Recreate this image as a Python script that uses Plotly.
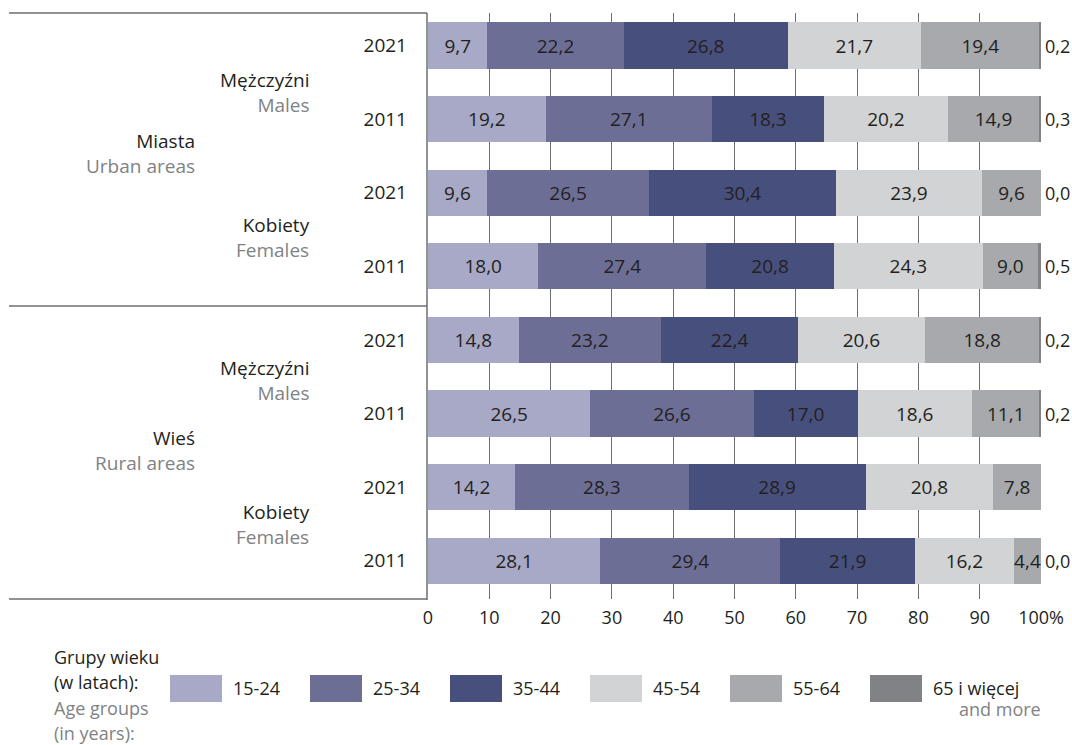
import plotly.graph_objects as go

# ---------------- data ----------------
years = ["2021", "2011", "2021", "2011", "2021", "2011", "2021", "2011"]
sex_pl = ["Mężczyźni", "Kobiety", "Mężczyźni", "Kobiety"]
sex_en = ["Males", "Females", "Males", "Females"]
area_pl = ["Miasta", "Wieś"]
area_en = ["Urban areas", "Rural areas"]

age_groups = ["15-24", "25-34", "35-44", "45-54", "55-64", "65 i więcej"]
v15_24 = [9.7, 19.2, 9.6, 18.0, 14.8, 26.5, 14.2, 28.1]
v25_34 = [22.2, 27.1, 26.5, 27.4, 23.2, 26.6, 28.3, 29.4]
v35_44 = [26.8, 18.3, 30.4, 20.8, 22.4, 17.0, 28.9, 21.9]
v45_54 = [21.7, 20.2, 23.9, 24.3, 20.6, 18.6, 20.8, 16.2]
v55_64 = [19.4, 14.9, 9.6, 9.0, 18.8, 11.1, 7.8, 4.4]
v65_plus = [0.2, 0.3, 0.0, 0.5, 0.2, 0.2, None, 0.0]

x_ticks = [0, 10, 20, 30, 40, 50, 60, 70, 80, 90, 100]
x_ticktext = ["0", "10", "20", "30", "40", "50", "60", "70", "80", "90", "100%"]

# ---------------- style ----------------
colors = ["#a8a9c6", "#6d6e96", "#474f7d", "#d1d3d4", "#a7a9ac", "#808285"]
FONT = "Open Sans"
BLACK = "#231f20"
GREY = "#808285"
LINE = "#6d6e71"

W, H = 1072, 745
L, R, T, B = 428, 31, 13, 146
PW, PH = W - L - R, H - T - B
Y_TOP, Y_BOT = -0.4416, 7.52

# label block centres (pixels from top)
sex_label_py = [92, 237, 380, 524]
area_label_py = [153, 450]


def px_x(px):
    return (px - L) / PW


def px_y(py):
    return 1 - (py - T) / PH


def fmt(v):
    return "" if v is None else f"{v:.1f}".replace(".", ",")


series = [v15_24, v25_34, v35_44, v45_54, v55_64, v65_plus]
rows = list(range(len(years)))

fig = go.Figure()
for i, (name, vals) in enumerate(zip(age_groups, series)):
    last = i == len(series) - 1
    fig.add_trace(go.Bar(
        y=rows, x=[0 if v is None else v for v in vals], orientation="h",
        name=name, marker=dict(color=colors[i], line=dict(width=0)),
        width=0.626,
        text=None if last else [fmt(v) for v in vals],
        textposition="inside", insidetextanchor="middle", textangle=0,
        textfont=dict(family=FONT, size=19, color=BLACK),
        showlegend=False, hoverinfo="skip",
    ))

annotations = []
# labels of the last (65+) group, to the right of the bars
for r, v in zip(rows, v65_plus):
    if v is None:
        continue
    annotations.append(dict(x=100, y=r, xref="x", yref="y", text=fmt(v),
                            xanchor="left", yanchor="middle", showarrow=False,
                            xshift=2, font=dict(family=FONT, size=18, color=BLACK)))

# sex labels
for k in range(4):
    annotations.append(dict(
        x=px_x(312), y=px_y(sex_label_py[k]), xref="paper", yref="paper",
        text=f"{sex_pl[k]}<br><span style='color:{GREY}'>{sex_en[k]}</span>",
        xanchor="right", yanchor="middle", align="right", showarrow=False,
        font=dict(family=FONT, size=19, color=BLACK)))
# area labels
for k in range(2):
    annotations.append(dict(
        x=px_x(197), y=px_y(area_label_py[k]), xref="paper", yref="paper",
        text=f"{area_pl[k]}<br><span style='color:{GREY}'>{area_en[k]}</span>",
        xanchor="right", yanchor="middle", align="right", showarrow=False,
        font=dict(family=FONT, size=19, color=BLACK)))

# legend (drawn manually to match the wide swatches)
legend_title = [("Grupy wieku", BLACK), ("(w latach):", BLACK),
                ("Age groups", GREY), ("(in years):", GREY)]
for j, (t, c) in enumerate(legend_title):
    annotations.append(dict(x=px_x(52), y=px_y(657 + 25.3 * j), xref="paper", yref="paper",
                            text=t, xanchor="left", yanchor="middle", showarrow=False,
                            font=dict(family=FONT, size=18, color=c)))
shapes = []
for i, name in enumerate(age_groups):
    x0 = 170 + 140 * i
    shapes.append(dict(type="rect", xref="paper", yref="paper",
                       x0=px_x(x0), x1=px_x(x0 + 52), y0=px_y(702), y1=px_y(675),
                       fillcolor=colors[i], line=dict(width=0)))
    annotations.append(dict(x=px_x(x0 + 61), y=px_y(688), xref="paper", yref="paper",
                            text=name, xanchor="left", yanchor="middle", showarrow=False,
                            font=dict(family=FONT, size=18, color=BLACK)))
annotations.append(dict(x=px_x(1043), y=px_y(709), xref="paper", yref="paper",
                        text="and more", xanchor="right", yanchor="middle", showarrow=False,
                        font=dict(family=FONT, size=18, color=GREY)))

# frame lines on the left
for py in (13, 306, 599):
    shapes.append(dict(type="line", xref="paper", yref="paper",
                       x0=px_x(9), x1=px_x(427), y0=px_y(py), y1=px_y(py),
                       line=dict(color=LINE, width=1.5)))
shapes.append(dict(type="line", xref="paper", yref="paper",
                   x0=px_x(427), x1=px_x(427), y0=px_y(600), y1=px_y(13),
                   line=dict(color=LINE, width=1.5)))

fig.update_layout(
    width=W, height=H, barmode="stack",
    margin=dict(l=L, r=R, t=T, b=B, autoexpand=False),
    paper_bgcolor="white", plot_bgcolor="white",
    font=dict(family=FONT, size=18, color=BLACK),
    uniformtext=dict(minsize=19, mode="show"),
    annotations=annotations, shapes=shapes,
    xaxis=dict(range=[0, 100], tickvals=x_ticks, ticktext=x_ticktext,
               showgrid=True, gridcolor=LINE, gridwidth=1, zeroline=False,
               showline=False, ticks="", fixedrange=True, ticklabelstandoff=6,
               tickfont=dict(family=FONT, size=18, color=BLACK)),
    yaxis=dict(range=[Y_BOT, Y_TOP], tickvals=rows, ticktext=years,
               showgrid=False, zeroline=False, showline=False, ticks="",
               ticklabelstandoff=20, fixedrange=True,
               tickfont=dict(family=FONT, size=19, color=BLACK)),
)

fig.write_html("out.html", config={"displayModeBar": False},
               post_script="document.body.style.margin='0px';")
